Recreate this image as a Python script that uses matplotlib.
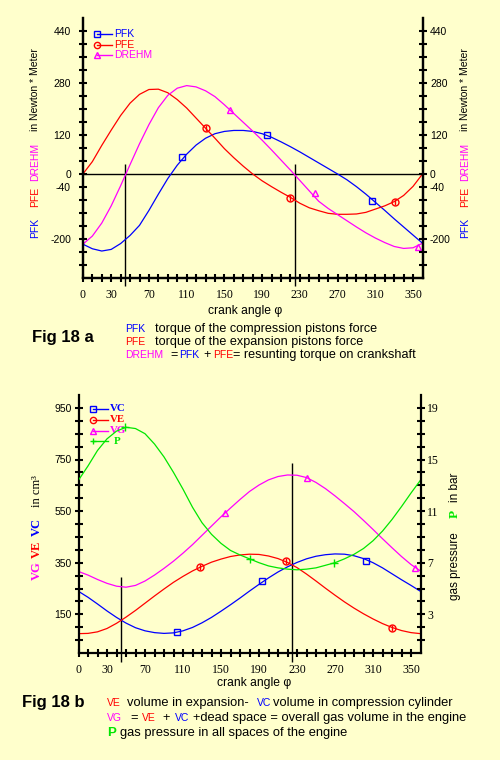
import numpy as np
import matplotlib
matplotlib.use('Agg')
import matplotlib.pyplot as plt

plt.rcParams['font.family'] = ['Liberation Sans', 'DejaVu Sans']

BG = '#ffffcc'
BLUE = '#0000ff'
RED = '#ff0000'
MAG = '#ff00ff'
GREEN = '#00e600'
SERIF = 'Liberation Serif'

# crank angle in degrees
angle = list(range(0, 361, 10))

# Fig 18 a : torques in Newton * Meter
pfk = [-216, -230, -237, -232, -214, -189, -158, -112, -62, -14,
       27, 61, 89, 110, 124, 131, 134, 134, 131, 124,
       113, 99, 84, 68, 51, 34, 17, 0, -18, -39,
       -62, -87, -112, -138, -163, -188, -213]
pfe = [0, 38, 88, 135, 180, 218, 245, 260, 261, 250,
       229, 203, 172, 141, 110, 78, 50, 24, 0, -21,
       -39, -56, -72, -90, -104, -113, -121, -124, -124, -123,
       -118, -108, -98, -85, -66, -38, 0]
drehm = [-216, -191, -151, -98, -36, 29, 93, 152, 204, 242,
         264, 272, 268, 256, 238, 213, 186, 159, 132, 104,
         74, 43, 12, -20, -52, -84, -106, -125, -144, -163,
         -181, -197, -211, -223, -229, -227, -213]
pfk_mk = ([105, 195, 306], [53, 120, -82])
pfe_mk = ([130, 220, 331], [141, -74, -86])
drehm_mk = ([156, 246, 355], [198, -58, -225])

# Fig 18 b : volumes in cm3, pressure in bar
vc = [239, 216, 190, 163, 138, 116, 98, 86, 79, 76,
      78, 86, 99, 117, 138, 162, 187, 213, 240, 266,
      291, 314, 334, 351, 365, 375, 381, 384, 383, 377,
      366, 350, 330, 307, 284, 262, 239]
ve = [75, 76, 82, 95, 115, 139, 165, 193, 221, 248,
      274, 297, 318, 336, 352, 364, 374, 380, 383, 382,
      376, 366, 351, 331, 306, 279, 251, 224, 198, 174,
      152, 132, 114, 99, 87, 79, 75]
vg = [316, 302, 285, 270, 259, 255, 262, 279, 302, 328,
      356, 387, 420, 456, 492, 528, 562, 595, 626, 651,
      671, 684, 690, 689, 680, 661, 637, 609, 579, 548,
      514, 479, 443, 408, 374, 343, 318]
p_bar = [13.4, 14.5, 15.7, 16.6, 17.2, 17.5, 17.4, 17.0, 16.2, 15.2,
         14.0, 12.7, 11.3, 10.1, 9.2, 8.5, 7.95, 7.6, 7.3, 7.0,
         6.75, 6.6, 6.5, 6.45, 6.5, 6.6, 6.8, 7.0, 7.3, 7.65,
         8.1, 8.7, 9.45, 10.35, 11.35, 12.4, 13.4]
vc_mk = ([104, 193, 303], [81, 279, 358])
ve_mk = ([128, 218, 330], [333, 355, 98])
vg_mk = ([154, 241, 354], [541, 678, 330])
p_mk = ([49, 180, 269], [17.5, 7.3, 7.0])

mark_angles = [45, 225]

xticks = list(range(0, 351, 10))
xlabels = [str(a) if a in (0, 30, 70, 110, 150, 190, 230, 270, 310, 350) else ''
           for a in xticks]
yticks_a = list(range(-280, 441, 40))
ylabels_a = [('%d' % v) if v in (440, 280, 120, 0, -40, -200) else '' for v in yticks_a]
yticks_b = list(range(50, 951, 50))
ylabels_b = [str(v) if v in (950, 750, 550, 350, 150) else '' for v in yticks_b]
pticks = list(range(1, 20))
plabels = [str(v) if v in (3, 7, 11, 15, 19) else '' for v in pticks]

W, H = 500, 760
fig = plt.figure(figsize=(5, 7.6), dpi=100, facecolor=BG)


def box(l, t, r, b):
    return [l / W, 1 - b / H, (r - l) / W, (b - t) / H]


def ftext(x, y, s, **kw):
    kw.setdefault('va', 'center')
    fig.text(x / W, 1 - y / H, s, **kw)


def style(ax):
    ax.set_facecolor('none')
    for s in ax.spines.values():
        s.set_linewidth(1.6)
    ax.spines['top'].set_visible(False)
    ax.tick_params(direction='inout', length=6, width=1.5, colors='black')


def mark(ax, xy, m, c, **kw):
    ax.plot(xy[0], xy[1], m, ls='none', mfc='none', mec=c, ms=5, mew=1, clip_on=False, **kw)


def legend_row(ax, y, m, c, label, xt=0.092, **kw):
    ax.plot([0.0415, 0.0857], [y, y], color=c, lw=1, transform=ax.transAxes,
            marker=m, markevery=[0], mfc='none', mec=c, ms=4.5, mew=1)
    ax.text(xt, y, label, color=c, transform=ax.transAxes, va='center', **kw)


# ---------------- Fig 18 a ----------------
ax1 = fig.add_axes(box(82.9, 18, 422.5, 278))
style(ax1)
ax1.set_xlim(0, 360)
ax1.set_ylim(-320, 480)
ax1.axhline(0, color='black', lw=1)
ax1.vlines(mark_angles, -345, 30, color='black', lw=1, clip_on=False)
ax1.plot(angle, pfk, color=BLUE, lw=0.9)
ax1.plot(angle, pfe, color=RED, lw=0.9)
ax1.plot(angle, drehm, color=MAG, lw=0.9)
mark(ax1, pfk_mk, 's', BLUE)
mark(ax1, pfe_mk, 'o', RED)
mark(ax1, pfe_mk, '|', RED)
mark(ax1, drehm_mk, '^', MAG)
ax1.set_xticks(xticks)
ax1.set_xticklabels(xlabels, family=SERIF, size=8.5)
ax1.set_yticks(yticks_a)
ax1.set_yticklabels(ylabels_a, size=7.5)
ax1.tick_params(axis='x', pad=5)
ax1.tick_params(axis='y', pad=5.6)
ax1r = ax1.twinx()
style(ax1r)
ax1r.set_ylim(-320, 480)
ax1r.set_yticks(yticks_a)
ax1r.set_yticklabels(ylabels_a, size=7.5)
ax1r.tick_params(axis='y', pad=2.4)
legend_row(ax1, 0.938, 's', BLUE, 'PFK', size=7.5)
legend_row(ax1, 0.898, 'o', RED, 'PFE', size=7.5)
legend_row(ax1, 0.858, '^', MAG, 'DREHM', size=7.5)

for xc in (35, 465):
    ftext(xc, 227.5, 'PFK', color=BLUE, rotation=90, ha='center', size=7.5)
    ftext(xc, 197, 'PFE', color=RED, rotation=90, ha='center', size=7.5)
    ftext(xc, 162, 'DREHM', color=MAG, rotation=90, ha='center', size=7.5)
    ftext(xc, 90, 'in Newton * Meter', color='black', rotation=90, ha='center', size=7.5)

ftext(245, 311, 'crank angle φ', ha='center', size=8.7)
ftext(32, 338, 'Fig 18 a', size=12, weight='bold')
ftext(125, 329, 'PFK', color=BLUE, size=7.5)
ftext(155, 329, 'torque of the compression pistons force', size=9.1)
ftext(125, 342, 'PFE', color=RED, size=7.5)
ftext(155, 342, 'torque of the expansion pistons force', size=9.1)
ftext(125, 355, 'DREHM', color=MAG, size=7.5)
ftext(170, 355, '=', size=9)
ftext(179, 355, 'PFK', color=BLUE, size=7.5)
ftext(203, 355, '+', size=9)
ftext(213, 355, 'PFE', color=RED, size=7.5)
ftext(233, 355, '= resunting torque on crankshaft', size=9.1)

# ---------------- Fig 18 b ----------------
ax2 = fig.add_axes(box(78.5, 395, 420.5, 653))
style(ax2)
ax2.spines['right'].set_visible(False)
ax2.set_xlim(0, 360)
ax2.set_ylim(0, 1000)
ax2.vlines(mark_angles, -35, [295, 735], color='black', lw=1, clip_on=False)
ax2.plot(angle, vc, color=BLUE, lw=0.9)
ax2.plot(angle, ve, color=RED, lw=0.9)
ax2.plot(angle, vg, color=MAG, lw=0.9)
mark(ax2, vc_mk, 's', BLUE)
mark(ax2, ve_mk, 'o', RED)
mark(ax2, ve_mk, '|', RED)
mark(ax2, vg_mk, '^', MAG)
ax2.set_xticks(xticks)
ax2.set_xticklabels(xlabels, family=SERIF, size=8.5)
ax2.set_yticks(yticks_b)
ax2.set_yticklabels(ylabels_b, size=7.5)
ax2.tick_params(axis='x', pad=5)
ax2.tick_params(axis='y', pad=1.7)

ax2p = ax2.twinx()
style(ax2p)
ax2p.spines['left'].set_visible(False)
ax2p.spines['bottom'].set_visible(False)
ax2p.set_ylim(0, 20)
ax2p.plot(angle, p_bar, color=GREEN, lw=0.9)
ax2p.plot(p_mk[0], p_mk[1], '+', ls='none', color=GREEN, ms=6, mew=1)
ax2p.set_yticks(pticks)
ax2p.set_yticklabels(plabels, family=SERIF, size=8.5)
ax2p.tick_params(axis='y', pad=1.7)

bl = dict(family=SERIF, weight='bold', size=7.8)
legend_row(ax2, 0.946, 's', BLUE, 'VC', **bl)
legend_row(ax2, 0.905, 'o', RED, 'VE', **bl)
legend_row(ax2, 0.862, '^', MAG, 'VG', **bl)
legend_row(ax2, 0.821, '+', GREEN, 'P', xt=0.104, **bl)

ftext(37, 571, 'VG', color=MAG, rotation=90, ha='center', family=SERIF, weight='bold', size=9)
ftext(37, 549, 'VE', color=RED, rotation=90, ha='center', family=SERIF, weight='bold', size=9)
ftext(37, 527, 'VC', color=BLUE, rotation=90, ha='center', family=SERIF, weight='bold', size=9)
ftext(37, 491, 'in cm³', rotation=90, ha='center', family=SERIF, size=9)
ftext(455, 566, 'gas pressure', rotation=90, ha='center', size=8.5)
ftext(455, 514, 'P', color=GREEN, rotation=90, ha='center', family=SERIF, weight='bold', size=9.5)
ftext(455, 487, 'in bar', rotation=90, ha='center', size=8.5)

ftext(254, 683, 'crank angle φ', ha='center', size=8.7)
ftext(22, 703, 'Fig 18 b', size=12, weight='bold')
ftext(107, 703, 'VE', color=RED, size=7.5)
ftext(127, 703, 'volume in expansion-', size=9.3)
ftext(257, 703, 'VC', color=BLUE, size=7.5)
ftext(273, 703, 'volume in compression cylinder', size=9.3)
ftext(107, 718, 'VG', color=MAG, size=7.5)
ftext(130, 718, '=', size=9.3)
ftext(142, 718, 'VE', color=RED, size=7.5)
ftext(162, 718, '+', size=9.3)
ftext(175, 718, 'VC', color=BLUE, size=7.5)
ftext(193, 718, '+dead space = overall gas volume in the engine', size=9.3)
ftext(107, 733, 'P', color=GREEN, size=9.5, weight='bold')
ftext(120, 733, 'gas pressure in all spaces of the engine', size=9.3)

fig.savefig('out.png', dpi=100, facecolor=BG)
